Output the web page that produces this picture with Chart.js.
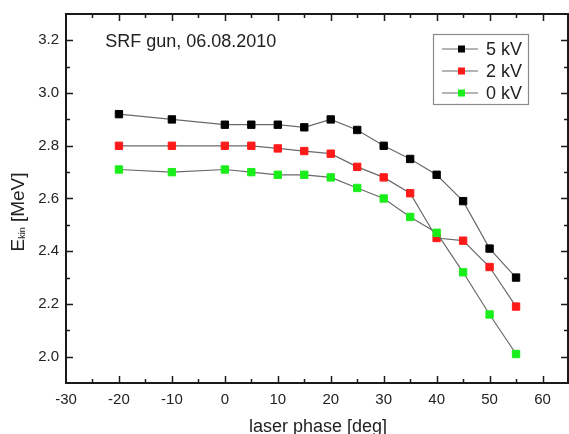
<!DOCTYPE html>
<html>
<head>
<meta charset="utf-8">
<script src="https://cdn.jsdelivr.net/npm/chart.js@4"></script>
<style>
  html, body { margin: 0; padding: 0; background: #fff; }
  #c { display: block; }
</style>
</head>
<body>
<canvas id="c" width="569" height="434"></canvas>
<script>
// ---- data ----
const phase = [-20, -10, 0, 5, 10, 15, 20, 25, 30, 35, 40, 45, 50, 55];
const e5kV  = [2.92, 2.90, 2.88, 2.88, 2.88, 2.87, 2.90, 2.86, 2.80, 2.75, 2.69, 2.59, 2.41, 2.30];
const e2kV  = [2.80, 2.80, 2.80, 2.80, 2.79, 2.78, 2.77, 2.72, 2.68, 2.62, 2.45, 2.44, 2.34, 2.19];
const e0kV  = [2.71, 2.70, 2.71, 2.70, 2.69, 2.69, 2.68, 2.64, 2.60, 2.53, 2.47, 2.32, 2.16, 2.01];
const seriesLabels = ['5 kV', '2 kV', '0 kV'];
const seriesColors = ['#000000', '#ff1a1a', '#1aee1a'];
const xTickValues = [-30, -20, -10, 0, 10, 20, 30, 40, 50, 60];
const yTickValues = [2.0, 2.2, 2.4, 2.6, 2.8, 3.0, 3.2];
const plotTitle = 'SRF gun, 06.08.2010';
const xTitle = 'laser phase [deg]';

const FONT = '"Liberation Sans", Arial, sans-serif';

function mk(vals) { return phase.map((p, i) => ({ x: p, y: vals[i] })); }

const seriesValues = [e5kV, e2kV, e0kV];
const datasets = seriesValues.map((v, i) => ({
  label: seriesLabels[i],
  data: mk(v),
  borderColor: '#6a6a6a',
  borderWidth: 1.2,
  pointStyle: 'rect',
  pointRadius: 5.2,
  pointBorderWidth: 1,
  pointBackgroundColor: seriesColors[i],
  pointBorderColor: seriesColors[i],
  showLine: true,
  tension: 0,
  clip: false,
  order: 2 - i
}));

const decor = {
  id: 'decor',
  afterDraw(chart) {
    const ctx = chart.ctx;
    const a = chart.chartArea;
    const xs = chart.scales.x, ys = chart.scales.y;
    ctx.save();
    // frame
    ctx.strokeStyle = '#1a1a1a';
    ctx.lineWidth = 2;
    ctx.beginPath();
    ctx.moveTo(a.left, a.top);
    ctx.lineTo(a.right - 1, a.top);
    ctx.lineTo(a.right - 1, a.bottom);
    ctx.lineTo(a.left, a.bottom);
    ctx.closePath();
    ctx.stroke();
    // ticks x (bottom and top)
    ctx.lineWidth = 1.5;
    for (let v = -25; v < 65; v += 5) {
      const px = Math.round(xs.getPixelForValue(v)) + 0.5;
      const major = (v % 10 === 0);
      const len = major ? 7 : 4;
      ctx.beginPath();
      ctx.moveTo(px, a.bottom);
      ctx.lineTo(px, a.bottom - len);
      ctx.moveTo(px, a.top);
      ctx.lineTo(px, a.top + len);
      ctx.stroke();
    }
    // ticks y (left and right)
    for (let k = 20; k <= 32; k++) {
      const v = k / 10;
      const py = Math.round(ys.getPixelForValue(v)) + 0.5;
      const major = (k % 2 === 0);
      const len = major ? 7 : 4;
      ctx.beginPath();
      ctx.moveTo(a.left, py);
      ctx.lineTo(a.left + len, py);
      ctx.moveTo(a.right - 1, py);
      ctx.lineTo(a.right - 1 - len, py);
      ctx.stroke();
    }
    // title inside plot
    ctx.fillStyle = '#222';
    ctx.font = '18px ' + FONT;
    ctx.textAlign = 'left';
    ctx.textBaseline = 'alphabetic';
    ctx.fillText(plotTitle, xs.getPixelForValue(-22.6), ys.getPixelForValue(3.2) + 6.5);

    // legend
    const lx = 433, ly = 34, lw = 95, lh = 70;
    ctx.fillStyle = '#fff';
    ctx.fillRect(lx, ly, lw, lh);
    ctx.strokeStyle = '#8a8a8a';
    ctx.lineWidth = 1.2;
    ctx.strokeRect(lx + 0.5, ly + 0.5, lw, lh);
    chart.data.datasets.forEach((ds, i) => {
      const yy = 49 + i * 22;
      ctx.strokeStyle = '#6a6a6a';
      ctx.lineWidth = 1.2;
      ctx.beginPath();
      ctx.moveTo(442, yy);
      ctx.lineTo(478, yy);
      ctx.stroke();
      ctx.fillStyle = ds.pointBackgroundColor;
      ctx.fillRect(458, yy - 3.5, 7, 7);
      ctx.fillStyle = '#222';
      ctx.font = '18px ' + FONT;
      ctx.textBaseline = 'middle';
      ctx.fillText(ds.label, 486, yy + 1);
    });

    // x title
    ctx.fillStyle = '#222';
    ctx.font = '18px ' + FONT;
    ctx.textAlign = 'center';
    ctx.textBaseline = 'alphabetic';
    ctx.fillText(xTitle, 318, 432);

    // y title with subscript
    ctx.translate(24, 212);
    ctx.rotate(-Math.PI / 2);
    ctx.textAlign = 'left';
    const f1 = '19px ' + FONT, f2 = '9px ' + FONT;
    ctx.font = f1; const wE = ctx.measureText('E').width;
    ctx.font = f2; const wK = ctx.measureText('kin').width;
    ctx.font = f1; const wM = ctx.measureText(' [MeV]').width;
    let x0 = -(wE + wK + wM) / 2;
    ctx.font = f1; ctx.fillText('E', x0, 0); x0 += wE;
    ctx.font = f2; ctx.fillText('kin', x0, 1); x0 += wK;
    ctx.font = f1; ctx.fillText(' [MeV]', x0, 0);
    ctx.restore();
  }
};

new Chart(document.getElementById('c'), {
  type: 'scatter',
  data: { datasets },
  options: {
    responsive: false,
    animation: false,
    devicePixelRatio: 1,
    layout: { autoPadding: false, padding: { top: 14, right: -3, left: 0, bottom: 0 } },
    plugins: { legend: { display: false }, tooltip: { enabled: false }, title: { display: false } },
    scales: {
      x: {
        type: 'linear', min: -30, max: 65,
        afterFit(s) { s.height = 51; s.paddingLeft = 0; s.paddingRight = 0; },
        afterBuildTicks(s) { s.ticks = xTickValues.map(v => ({ value: v })); },
        grid: { display: false, drawTicks: false },
        border: { display: false },
        ticks: { color: '#222', font: { family: FONT, size: 15 }, padding: 8, maxRotation: 0,
                 callback: v => String(v) }
      },
      y: {
        type: 'linear', min: 1.9, max: 3.3,
        afterFit(s) { s.width = 66; s.paddingTop = 0; s.paddingBottom = 0; },
        afterBuildTicks(s) { s.ticks = yTickValues.map(v => ({ value: v })); },
        grid: { display: false, drawTicks: false },
        border: { display: false },
        ticks: { color: '#222', font: { family: FONT, size: 15 }, padding: 7,
                 callback: v => Number(v).toFixed(1) }
      }
    }
  },
  plugins: [decor]
});
</script>
</body>
</html>
